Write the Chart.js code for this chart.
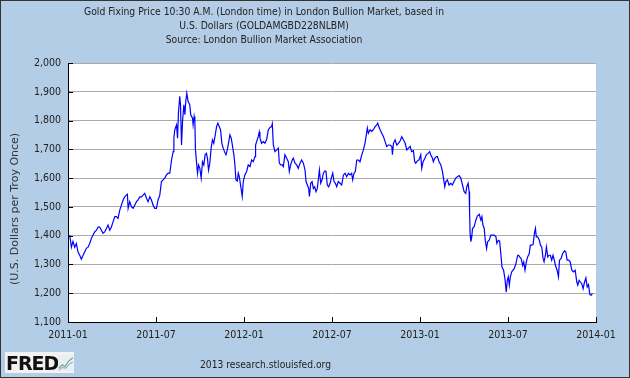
<!DOCTYPE html>
<html>
<head>
<meta charset="utf-8">
<title>Gold Fixing Price</title>
<script src="https://cdn.jsdelivr.net/npm/chart.js@4.4.1/dist/chart.umd.min.js"></script>
<style>
  body { margin: 0; }
  #wrap { position: relative; width: 630px; height: 378px; background: #b4cde6; overflow: hidden;
          font-family: "DejaVu Sans Condensed", "DejaVu Sans", sans-serif; color: #222; }
  #chart { position: absolute; left: 0; top: 0; }
  #frame { position: absolute; left: 0; top: 0; width: 630px; height: 378px; box-sizing: border-box;
           border: 1px solid #333; pointer-events: none; }
  #title { position: absolute; left: 44px; top: 5px; width: 440px; text-align: center;
           font-size: 10.3px; line-height: 13.8px; color: #222; }
  #ytitle { position: absolute; left: -85px; top: 202px; width: 200px; height: 14px; line-height: 14px;
            text-align: center; transform: rotate(-90deg); white-space: nowrap;
            font-family: "DejaVu Sans", sans-serif; font-weight: normal; font-size: 11px; color: #333; }
  #source { position: absolute; left: 200px; top: 359px; font-size: 10.2px; white-space: nowrap; color: #222; }
  #fred { position: absolute; left: 5px; top: 352px; width: 69px; height: 21px; background: #f2f2f2;
          display: flex; align-items: center; }
  #fred b { font-family: "DejaVu Sans", sans-serif; font-weight: 900; font-size: 19px; letter-spacing: -1px;
            color: #111; margin-left: 1px; }
</style>
</head>
<body>
<div id="wrap">
  <canvas id="chart" width="630" height="378"></canvas>
  <div id="title"></div>
  <div id="ytitle">(U.S. Dollars per Troy Once)</div>
  <div id="fred"><b>FRED</b>
    <svg width="18" height="18" viewBox="0 0 18 18">
      <rect x="0" y="0" width="18" height="18" fill="#e8eef4"/>
      <polyline points="1,15 5,11 8,13 12,7 17,3" fill="none" stroke="#6fa86f" stroke-width="1.3"/>
      <polyline points="1,17 5,14 9,15 13,10 17,8" fill="none" stroke="#8fb0d8" stroke-width="1.3"/>
    </svg>
  </div>
  <div id="source">2013 research.stlouisfed.org</div>
  <div id="frame"></div>
</div>
<script>
// titel & label
const titleLines = [
  "Gold Fixing Price 10:30 A.M. (London time) in London Bullion Market, based in",
  "U.S. Dollars (GOLDAMGBD228NLBM)",
  "Source: London Bullion Market Association"
];
const xLabels = ["2011-01", "2011-07", "2012-01", "2012-07", "2013-01", "2013-07", "2014-01"];

// bulan sejak 2011-01
const months = [
  0.12, 0.23, 0.34, 0.46, 0.57, 0.68, 0.80, 0.91, 1.03, 1.14, 1.25, 1.37, 1.48, 1.59, 1.71, 1.82, 1.94,
  2.05, 2.16, 2.28, 2.39, 2.50, 2.62, 2.73, 2.85, 2.96, 3.07, 3.19, 3.30, 3.41, 3.53, 3.64, 3.76, 3.87,
  3.98, 4.05, 4.10, 4.21, 4.33, 4.44, 4.55, 4.67, 4.78, 4.89, 5.01, 5.12, 5.23, 5.35, 5.46, 5.58, 5.69,
  5.80, 5.92, 6.03, 6.14, 6.26, 6.37, 6.48, 6.60, 6.71, 6.83, 6.94, 7.06, 7.17, 7.22, 7.28, 7.40, 7.47,
  7.53, 7.62, 7.67, 7.74, 7.81, 7.90, 7.97, 8.03, 8.10, 8.19, 8.30, 8.37, 8.49, 8.53, 8.60, 8.65, 8.69,
  8.76, 8.83, 8.90, 8.99, 9.08, 9.17, 9.26, 9.35, 9.44, 9.51, 9.58, 9.67, 9.76, 9.85, 9.94, 10.04, 10.13,
  10.22, 10.31, 10.40, 10.49, 10.58, 10.67, 10.77, 10.86, 10.94, 11.04, 11.13, 11.22, 11.31, 11.38, 11.45,
  11.54, 11.61, 11.68, 11.88, 11.95, 12.06, 12.18, 12.29, 12.41, 12.52, 12.63, 12.75, 12.79, 12.86, 12.97,
  13.04, 13.09, 13.20, 13.32, 13.43, 13.54, 13.66, 13.77, 13.88, 13.93, 14.00, 14.11, 14.23, 14.34, 14.41,
  14.50, 14.61, 14.68, 14.79, 14.91, 15.02, 15.09, 15.18, 15.29, 15.36, 15.48, 15.59, 15.70, 15.82, 15.93,
  16.05, 16.16, 16.23, 16.32, 16.41, 16.46, 16.55, 16.64, 16.73, 16.82, 16.91, 17.00, 17.14, 17.23, 17.32,
  17.41, 17.52, 17.59, 17.68, 17.77, 17.87, 17.98, 18.05, 18.14, 18.23, 18.32, 18.43, 18.55, 18.66, 18.78,
  18.89, 19.00, 19.12, 19.23, 19.34, 19.41, 19.50, 19.59, 19.69, 19.80, 19.91, 20.03, 20.14, 20.25, 20.32,
  20.41, 20.48, 20.60, 20.71, 20.82, 20.94, 21.05, 21.12, 21.19, 21.28, 21.39, 21.51, 21.62, 21.73, 21.85,
  21.96, 22.08, 22.12, 22.19, 22.30, 22.42, 22.53, 22.64, 22.76, 22.87, 22.99, 23.10, 23.21, 23.33, 23.43,
  23.55, 23.64, 23.71, 23.82, 23.93, 24.05, 24.12, 24.21, 24.32, 24.43, 24.55, 24.66, 24.73, 24.85, 24.91,
  25.00, 25.12, 25.19, 25.30, 25.42, 25.53, 25.60, 25.69, 25.76, 25.87, 25.98, 26.10, 26.21, 26.33, 26.44,
  26.55, 26.67, 26.78, 27.01, 27.12, 27.19, 27.28, 27.35, 27.38, 27.42, 27.47, 27.53, 27.58, 27.69, 27.81,
  27.92, 28.04, 28.15, 28.22, 28.29, 28.38, 28.45, 28.54, 28.61, 28.72, 28.83, 28.95, 29.06, 29.18, 29.24,
  29.34, 29.43, 29.52, 29.59, 29.70, 29.79, 29.88, 29.95, 30.02, 30.09, 30.16, 30.25, 30.34, 30.43, 30.54,
  30.66, 30.73, 30.79, 30.89, 31.00, 31.07, 31.16, 31.25, 31.34, 31.45, 31.52, 31.61, 31.71, 31.80, 31.87,
  31.93, 32.02, 32.14, 32.21, 32.30, 32.39, 32.46, 32.55, 32.62, 32.71, 32.80, 32.89, 32.98, 33.07, 33.16,
  33.23, 33.35, 33.44, 33.51, 33.62, 33.73, 33.85, 33.94, 34.03, 34.14, 34.24, 34.35, 34.46, 34.58, 34.69,
  34.76, 34.85, 34.94, 35.03, 35.12, 35.22, 35.31, 35.40, 35.49, 35.58, 35.67, 35.76
];

// harga emas USD per troy ounce
const prices = [
  1402, 1360, 1380, 1360, 1373, 1344, 1332, 1318, 1332, 1344, 1356, 1360, 1373, 1390, 1402, 1413, 1419,
  1430, 1430, 1419, 1408, 1413, 1425, 1437, 1419, 1430, 1448, 1466, 1466, 1460, 1489, 1506, 1524, 1535,
  1541, 1544, 1495, 1518, 1500, 1495, 1506, 1518, 1524, 1535, 1535, 1541, 1547, 1530, 1518, 1535, 1524,
  1506, 1495, 1495, 1524, 1541, 1588, 1594, 1600, 1611, 1617, 1617, 1663, 1692, 1739, 1768, 1785, 1739,
  1826, 1884, 1855, 1715, 1797, 1855, 1820, 1866, 1895, 1866, 1855, 1820, 1808, 1785, 1814, 1797, 1698,
  1657, 1617, 1646, 1634, 1600, 1657, 1646, 1681, 1686, 1669, 1628, 1652, 1704, 1733, 1721, 1750, 1779,
  1791, 1779, 1768, 1721, 1704, 1692, 1681, 1698, 1721, 1750, 1739, 1710, 1681, 1646, 1594,
  1590, 1617, 1605, 1536, 1588, 1611, 1623, 1646, 1640, 1663, 1657, 1675, 1715, 1727, 1744,
  1760, 1739, 1721, 1727, 1721, 1733, 1768, 1776, 1779, 1789, 1715, 1692, 1698, 1704, 1652,
  1646, 1646, 1640, 1681, 1669, 1657, 1623, 1646, 1663, 1669, 1652, 1646, 1634, 1652, 1663,
  1652, 1628, 1588, 1576, 1564, 1536, 1582, 1588, 1564, 1570, 1553, 1564, 1628, 1582, 1594,
  1617, 1625, 1623, 1576, 1570, 1582, 1605, 1617, 1588, 1582, 1570, 1588, 1582, 1576, 1611,
  1617, 1605, 1617, 1611, 1617, 1594, 1617, 1623, 1663, 1663, 1657, 1681, 1698, 1721, 1744,
  1774, 1756, 1768, 1762, 1768, 1779, 1785, 1791, 1779, 1768, 1756, 1744, 1727, 1710, 1715,
  1715, 1710, 1681, 1721, 1733, 1715, 1721, 1729, 1744, 1733, 1721, 1698, 1704, 1710, 1692,
  1695, 1657, 1652, 1660, 1663, 1681, 1634, 1657, 1667, 1681, 1686, 1692, 1681, 1669, 1657,
  1669, 1675, 1675, 1657, 1646, 1623, 1600, 1570, 1588, 1594, 1576, 1582, 1576, 1590, 1600,
  1605, 1609, 1600, 1553, 1547, 1570, 1582, 1553, 1483, 1402, 1379, 1396, 1425, 1431, 1454,
  1469, 1474, 1454, 1466, 1437, 1425, 1384, 1355, 1379, 1384, 1402, 1402, 1402, 1396, 1373,
  1384, 1381, 1332, 1291, 1280, 1251, 1204, 1245, 1257, 1228, 1257, 1274, 1280, 1286, 1303,
  1332, 1332, 1326, 1321, 1297, 1309, 1280, 1309, 1326, 1338, 1367, 1367, 1369, 1408, 1425,
  1396, 1396, 1384, 1367, 1361, 1321, 1309, 1332, 1361, 1326, 1332, 1332, 1315, 1332, 1315,
  1297, 1280, 1257, 1315, 1321, 1338, 1347, 1344, 1315, 1315, 1309, 1280, 1274, 1280, 1239,
  1228, 1245, 1239, 1233, 1216, 1239, 1253, 1222, 1230, 1195, 1193, 1199
];

const fontFamily = '"DejaVu Sans Condensed", "DejaVu Sans", sans-serif';

// judul ditulis sebagai teks HTML
const titleEl = document.getElementById("title");
titleLines.forEach(line => {
  const div = document.createElement("div");
  div.textContent = line;
  titleEl.appendChild(div);
});

// latar putih area plot
const plotBg = {
  id: "plotBg",
  beforeDraw(chart) {
    const { ctx, chartArea: a } = chart;
    ctx.save();
    ctx.fillStyle = "#ffffff";
    ctx.fillRect(a.left, a.top, a.right - a.left, a.bottom - a.top);
    ctx.restore();
  }
};

// tick kecil ke dalam plot
const innerTicks = {
  id: "innerTicks",
  afterDraw(chart) {
    const { ctx, chartArea: a, scales: { x, y } } = chart;
    ctx.save();
    ctx.strokeStyle = "#000";
    ctx.lineWidth = 1;
    ctx.beginPath();
    x.ticks.forEach(t => {
      const px = Math.round(x.getPixelForValue(t.value)) + 0.5;
      ctx.moveTo(px, a.bottom);
      ctx.lineTo(px, a.bottom - 5);
    });
    y.ticks.forEach(t => {
      const py = Math.round(y.getPixelForValue(t.value)) + 0.5;
      ctx.moveTo(a.left, py);
      ctx.lineTo(a.left + 5, py);
    });
    ctx.stroke();
    ctx.restore();
  }
};

new Chart(document.getElementById("chart"), {
  type: "line",
  data: {
    datasets: [{
      data: months.map((m, i) => ({ x: m, y: prices[i] })),
      borderColor: "#0000ff",
      borderWidth: 1.2,
      pointRadius: 0,
      tension: 0,
      fill: false
    }]
  },
  options: {
    responsive: false,
    animation: false,
    layout: { padding: { left: 0, right: 34, top: 63, bottom: 0 } },
    plugins: {
      legend: { display: false },
      tooltip: { enabled: false },
      title: { display: false }
    },
    scales: {
      x: {
        type: "linear",
        min: 0,
        max: 36,
        border: { color: "#000", width: 1 },
        grid: { display: false, drawTicks: false },
        ticks: {
          stepSize: 6,
          padding: 7,
          color: "#222",
          maxRotation: 0,
          autoSkip: false,
          font: { family: fontFamily, size: 10.5 },
          callback: v => xLabels[v / 6]
        },
        afterFit: s => { s.height = 56; }
      },
      y: {
        min: 1100,
        max: 2000,
        border: { color: "#000", width: 1 },
        grid: { color: "#aaaaaa", drawTicks: false },
        ticks: {
          stepSize: 100,
          padding: 7,
          color: "#222",
          font: { family: fontFamily, size: 10.5 },
          callback: v => v.toLocaleString("en-US")
        },
        afterFit: s => { s.width = 68; }
      }
    }
  },
  plugins: [plotBg, innerTicks]
});
</script>
</body>
</html>
